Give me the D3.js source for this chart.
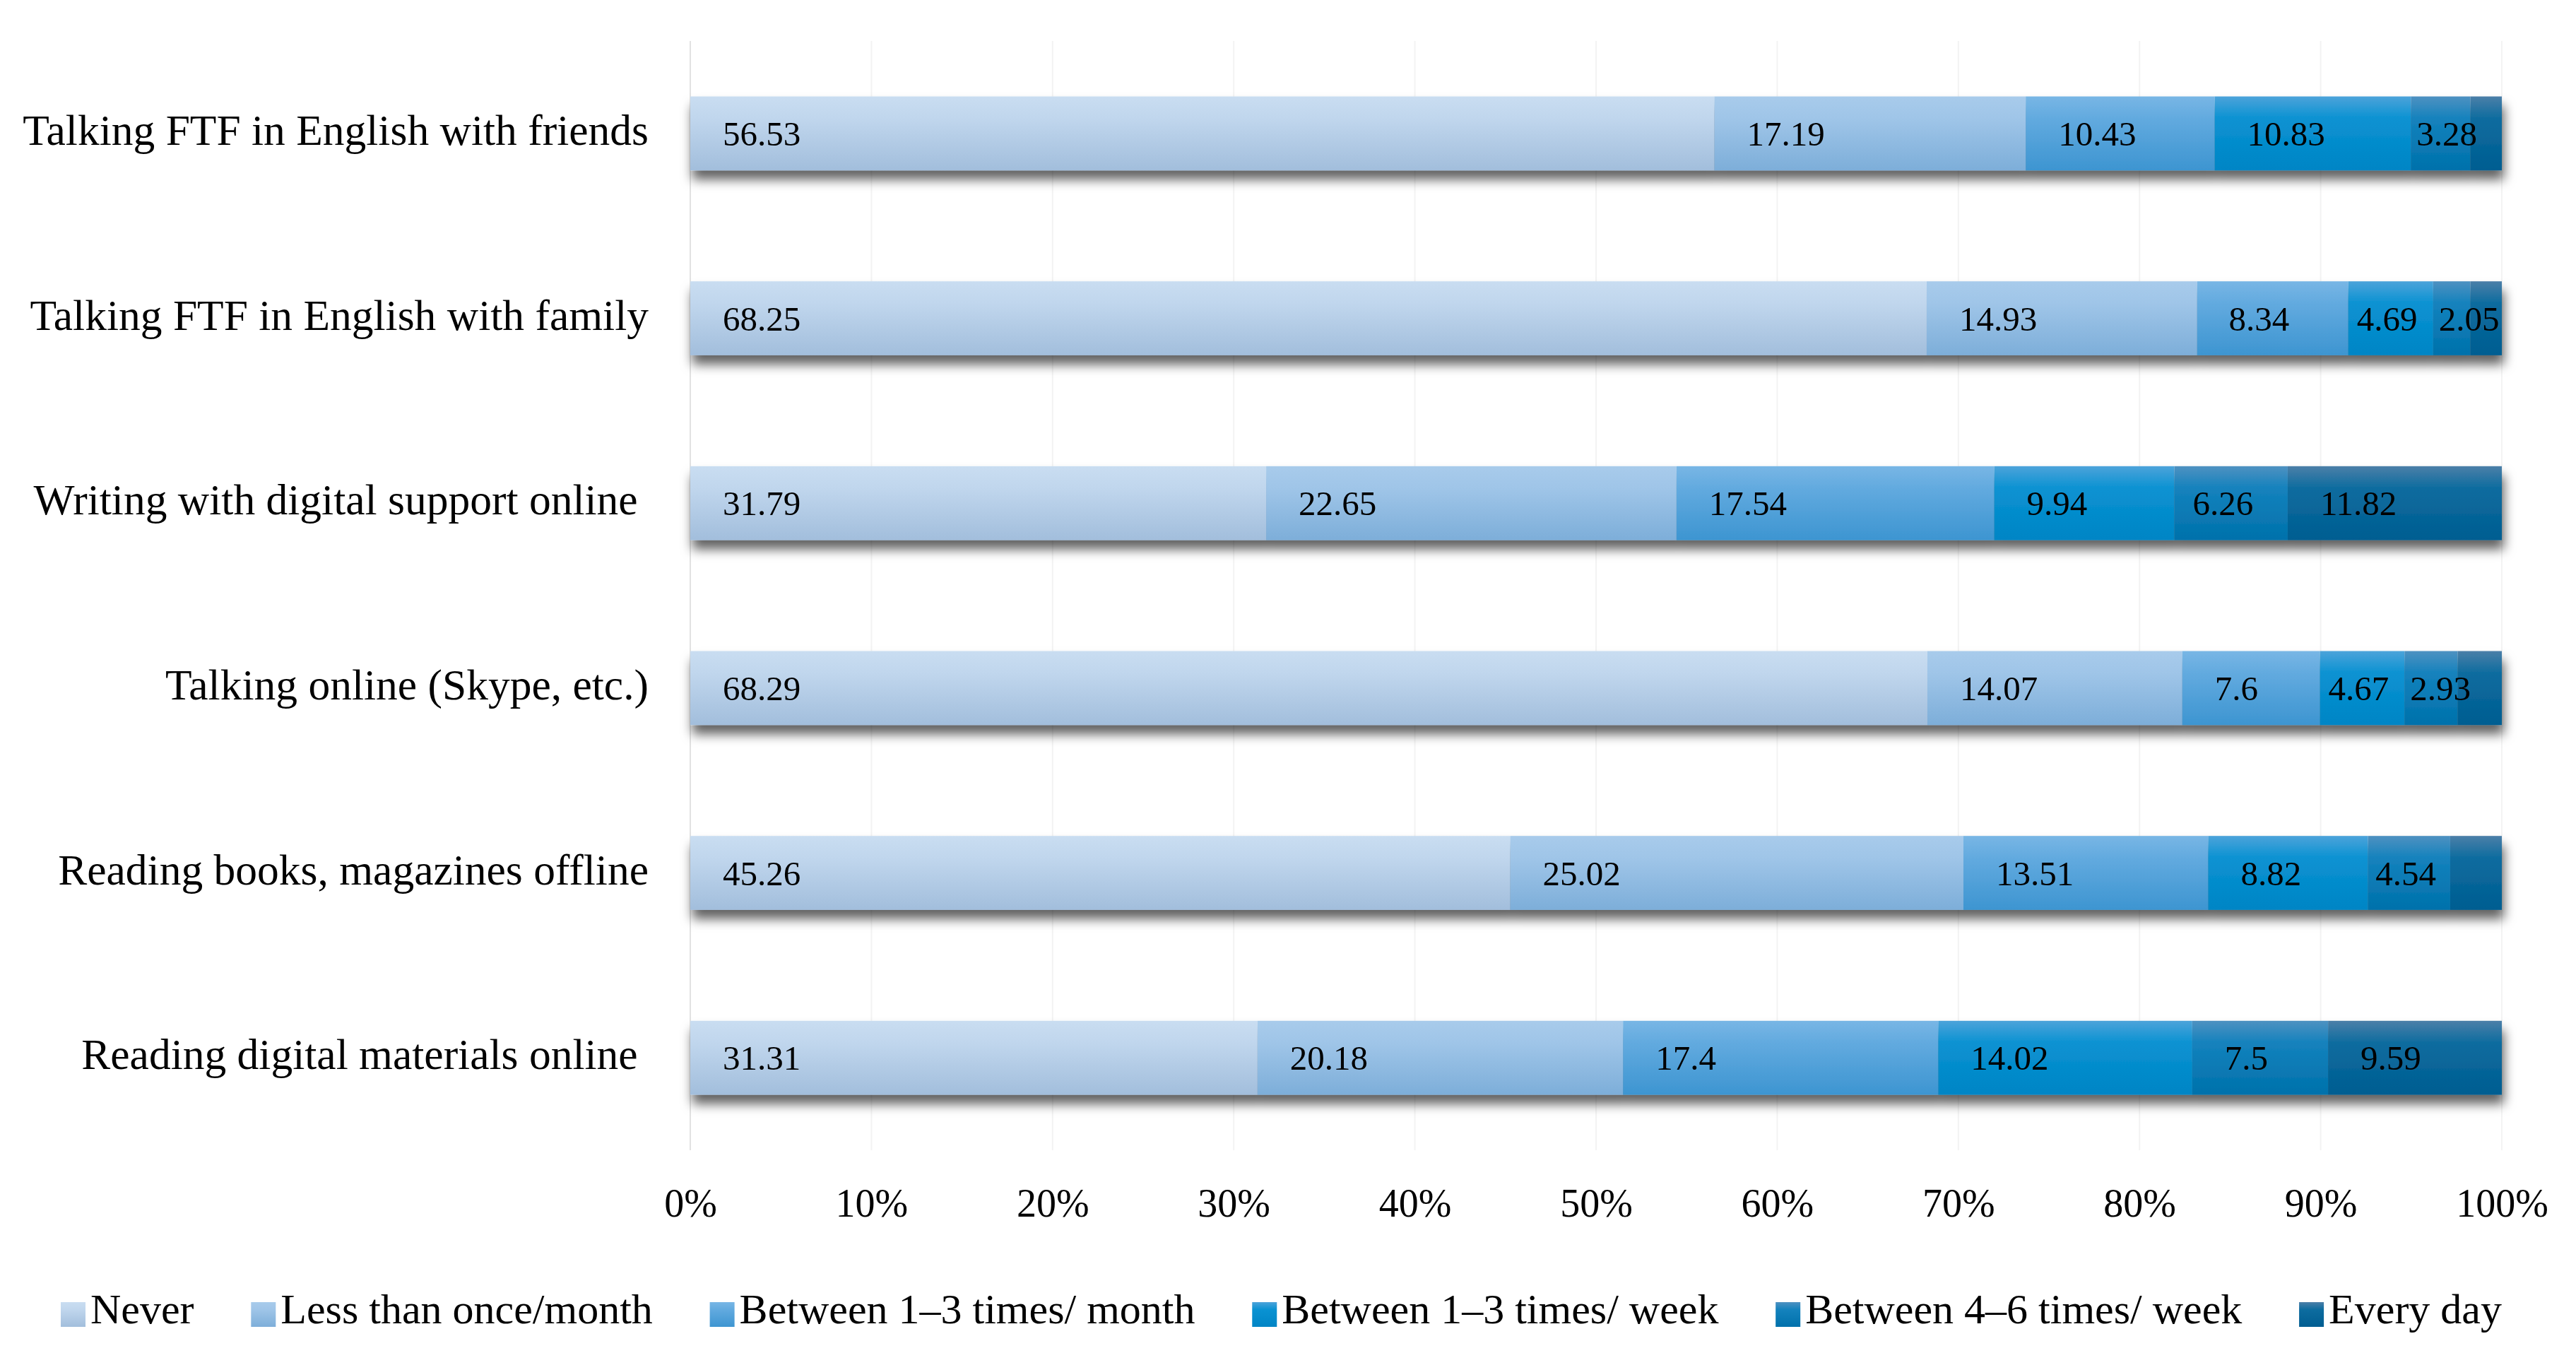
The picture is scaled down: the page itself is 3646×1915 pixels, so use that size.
<!DOCTYPE html>
<html>
<head>
<meta charset="utf-8">
<script src="https://cdn.jsdelivr.net/npm/d3@7/dist/d3.min.js"></script>
<style>
  html, body { margin: 0; padding: 0; background: #fff; }
  svg { display: block; }
  text { font-family: "Liberation Serif", "DejaVu Serif", serif; fill: #000; }
</style>
</head>
<body>
<svg id="chart" width="3646" height="1915"></svg>
<script>
// ---- data ----
const categories = [
  "Talking FTF in English with friends",
  "Talking FTF in English with family",
  "Writing with digital support online ",
  "Talking online (Skype, etc.)",
  "Reading books, magazines offline",
  "Reading digital materials online "
];
const seriesNames = [
  "Never",
  "Less than once/month",
  "Between 1\u20133 times/ month",
  "Between 1\u20133 times/ week",
  "Between 4\u20136 times/ week",
  "Every day"
];
const never        = [56.53, 68.25, 31.79, 68.29, 45.26, 31.31];
const lessMonthly  = [17.19, 14.93, 22.65, 14.07, 25.02, 20.18];
const month1to3    = [10.43,  8.34, 17.54,  7.60, 13.51, 17.40];
const week1to3     = [10.83,  4.69,  9.94,  4.67,  8.82, 14.02];
const week4to6     = [ 3.28,  2.05,  6.26,  2.93,  4.54,  7.50];
const everyDay     = [ 1.74,  1.74, 11.82,  2.44,  2.85,  9.59];
// labels shown on each segment (blank = not labelled)
const shownLabels = [
  ["56.53","17.19","10.43","10.83","3.28",""],
  ["68.25","14.93","8.34","4.69","2.05",""],
  ["31.79","22.65","17.54","9.94","6.26","11.82"],
  ["68.29","14.07","7.6","4.67","2.93",""],
  ["45.26","25.02","13.51","8.82","4.54",""],
  ["31.31","20.18","17.4","14.02","7.5","9.59"]
];
const xTicks = [0,10,20,30,40,50,60,70,80,90,100];
const gradStops = [
  ["#c9ddf1","#c0d6ed","#a2bedc"],
  ["#a8cbeb","#9fc5e8","#7daed9"],
  ["#78b6e5","#62aadf","#3d95d1"],
  ["#4ca3da","#0a92d2","#0085c5"],
  ["#4e91c1","#1482bd","#0071ab"],
  ["#4b7fa8","#0d6c9f","#005d91"]
];

// ---- build ----
const seriesValues = [never, lessMonthly, month1to3, week1to3, week4to6, everyDay];
const rows = categories.map((c, i) => {
  const o = { cat: c };
  seriesNames.forEach((s, j) => o[s] = seriesValues[j][i]);
  return o;
});
const stacked = d3.stack().keys(seriesNames)(rows);

const svg = d3.select("#chart");
const x = d3.scaleLinear().domain([0, 100]).range([977, 3541]);
const y = d3.scaleBand().domain(categories).range([58, 1628]).paddingInner(0.6).paddingOuter(0.3);

const defs = svg.append("defs");
gradStops.forEach((st, j) => {
  const g = defs.append("linearGradient").attr("id", "g" + j)
    .attr("x1", 0).attr("y1", 0).attr("x2", 0).attr("y2", 1);
  g.append("stop").attr("offset", "0%").attr("stop-color", st[0]);
  g.append("stop").attr("offset", "30%").attr("stop-color", st[1]);
  g.append("stop").attr("offset", "100%").attr("stop-color", st[2]);
});
const f = defs.append("filter").attr("id", "shadow")
  .attr("x", "-5%").attr("y", "-60%").attr("width", "110%").attr("height", "220%");
f.append("feDropShadow").attr("dx", 3).attr("dy", 13).attr("stdDeviation", 8)
  .attr("flood-color", "#000").attr("flood-opacity", 0.62);

// gridlines
svg.append("g").selectAll("line").data(xTicks.slice(1)).join("line")
  .attr("x1", d => x(d)).attr("x2", d => x(d))
  .attr("y1", 58).attr("y2", 1628)
  .attr("stroke", "#f3f3f3").attr("stroke-width", 2);

// left axis line
svg.append("line").attr("x1", x(0)).attr("x2", x(0)).attr("y1", 58).attr("y2", 1628)
  .attr("stroke", "#e2e2e2").attr("stroke-width", 2);

// bars
const rowG = svg.append("g").selectAll("g.row").data(categories).join("g")
  .attr("class", "row").attr("filter", "url(#shadow)");
rowG.each(function(cat, i) {
  d3.select(this).selectAll("rect").data(stacked.map((s, j) => ({ s: s[i], j })))
    .join("rect")
    .attr("x", d => x(d.s[0]))
    .attr("width", d => Math.max(0, x(d.s[1]) - x(d.s[0])))
    .attr("y", y(cat))
    .attr("height", y.bandwidth())
    .attr("fill", d => "url(#g" + d.j + ")");
});

// value labels
const labG = svg.append("g");
categories.forEach((cat, i) => {
  stacked.forEach((s, j) => {
    const txt = shownLabels[i][j];
    if (!txt) return;
    const x0 = x(s[i][0]), w = x(s[i][1]) - x0;
    const t = labG.append("text")
      .attr("y", y(cat) + y.bandwidth() / 2 + 17)
      .style("font-size", "49px")
      .text(txt);
    const tw = t.node().getComputedTextLength();
    const off = Math.max(8, Math.min(46, (w - tw) * 0.35));
    t.attr("x", x0 + off);
  });
});

// category labels
svg.append("g").selectAll("text").data(categories).join("text")
  .attr("x", 918)
  .attr("y", d => y(d) + y.bandwidth() / 2 + 16)
  .attr("text-anchor", "end")
  .style("font-size", "61.5px")
  .style("white-space", "pre")
  .text(d => d);

// x axis tick labels
const xAxis = d3.axisBottom(x).tickValues(xTicks).tickFormat(d => d + "%").tickSize(0).tickPadding(0);
const axG = svg.append("g").attr("transform", "translate(0,1722)").call(xAxis);
axG.select(".domain").remove();
axG.selectAll("text").attr("dy", 0).attr("y", 0)
  .style("font-size", "56px")
  .style("font-family", "'Liberation Serif', serif")
  .attr("fill", "#000");

// legend (justified between 86 and 3541)
const legG = svg.append("g");
const items = seriesNames.map((n, j) => {
  const g = legG.append("g");
  g.append("rect").attr("width", 35).attr("height", 35).attr("y", 1843).attr("fill", "url(#g" + j + ")");
  const t = g.append("text").attr("x", 42).attr("y", 1873).style("font-size", "60px").text(n);
  return { g, w: 42 + t.node().getComputedTextLength() };
});
const totalW = d3.sum(items, d => d.w);
const gap = (3541 - 86 - totalW) / (items.length - 1);
let cx = 86;
items.forEach(it => { it.g.attr("transform", `translate(${cx},0)`); cx += it.w + gap; });
</script>
</body>
</html>
